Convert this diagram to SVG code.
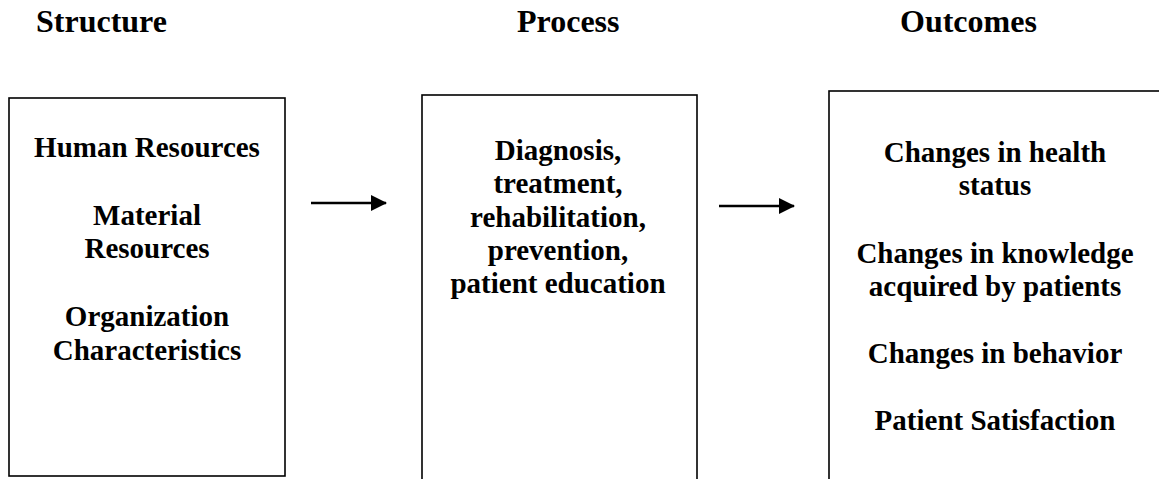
<svg xmlns="http://www.w3.org/2000/svg" width="1159" height="479" viewBox="0 0 1159 479">
  <style>
    .hdr { font-weight: bold; font-size: 32px; fill: #000; }
    .lbl { font-weight: bold; font-size: 29px; fill: #000; text-anchor: middle; }
    .box { fill: #fff; stroke: #000; stroke-width: 1.6; }
    .conn { stroke: #000; stroke-width: 2.5; fill: none; }
  </style>
  <defs>
    <marker id="arrow" viewBox="0 0 16 16" refX="15" refY="8" markerUnits="userSpaceOnUse" markerWidth="16" markerHeight="16" orient="auto">
      <path d="M0,0 L16,8 L0,16 Z" fill="#000"/>
    </marker>
  </defs>
  <rect width="1159" height="479" fill="#fff"/>

  <g font-family="Liberation Serif, DejaVu Serif, serif">
    <!-- column headings -->
    <g id="headings">
      <text class="hdr" x="36" y="32">Structure</text>
      <text class="hdr" x="517" y="32">Process</text>
      <text class="hdr" x="900" y="32">Outcomes</text>
    </g>

    <!-- Structure -->
    <g id="structure">
      <rect class="box" x="9" y="98" width="276" height="378"/>
      <text class="lbl" x="147" y="157">Human Resources</text>
      <text class="lbl" x="147" y="225">Material</text>
      <text class="lbl" x="147" y="258">Resources</text>
      <text class="lbl" x="147" y="326">Organization</text>
      <text class="lbl" x="147" y="360">Characteristics</text>
    </g>

    <!-- Process -->
    <g id="process">
      <rect class="box" x="422" y="95" width="275" height="400"/>
      <text class="lbl" x="558" y="160">Diagnosis,</text>
      <text class="lbl" x="558" y="193">treatment,</text>
      <text class="lbl" x="558" y="227">rehabilitation,</text>
      <text class="lbl" x="558" y="260">prevention,</text>
      <text class="lbl" x="558" y="293">patient education</text>
    </g>

    <!-- Outcomes -->
    <g id="outcomes">
      <rect class="box" x="829" y="91" width="340" height="410"/>
      <text class="lbl" x="995" y="162">Changes in health</text>
      <text class="lbl" x="995" y="195">status</text>
      <text class="lbl" x="995" y="263">Changes in knowledge</text>
      <text class="lbl" x="995" y="296">acquired by patients</text>
      <text class="lbl" x="995" y="363">Changes in behavior</text>
      <text class="lbl" x="995" y="430">Patient Satisfaction</text>
    </g>
  </g>

  <!-- connectors -->
  <g id="connectors">
    <line class="conn" x1="311" y1="203" x2="386" y2="203" marker-end="url(#arrow)"/>
    <line class="conn" x1="719" y1="206" x2="794" y2="206" marker-end="url(#arrow)"/>
  </g>
</svg>
